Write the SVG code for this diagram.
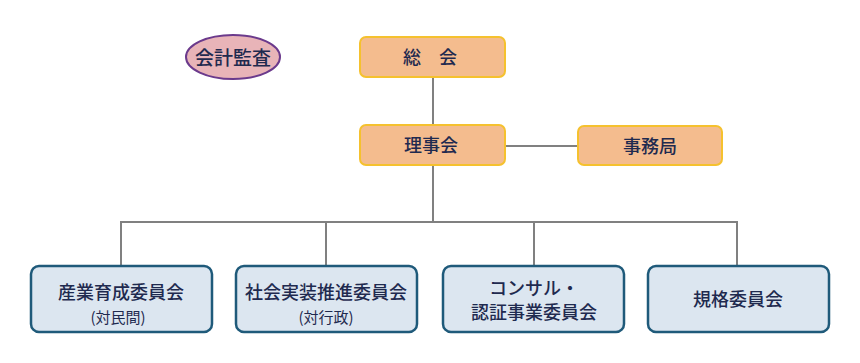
<svg xmlns="http://www.w3.org/2000/svg" width="860" height="363" viewBox="0 0 860 363">
<style>
.t{font-family:"Noto Sans CJK JP","Noto Sans",sans-serif;fill:#1F2A4F;text-anchor:middle;dominant-baseline:central;}
.m{font-size:18px;font-weight:500;}
.s{font-size:15px;}
.top{fill:#F4BC8E;stroke:#F5C12E;stroke-width:2;}
.bot{fill:#DCE6F0;stroke:#1F5A7A;stroke-width:2.5;}
.c{stroke:#808080;stroke-width:2;fill:none;}
</style>
<rect width="860" height="363" fill="#FFFFFF"/>
<g id="connectors">
<line class="c" x1="433" y1="77" x2="433" y2="125"/>
<line class="c" x1="505" y1="146" x2="578" y2="146"/>
<line class="c" x1="433" y1="165" x2="433" y2="222"/>
<polyline class="c" points="121,266 121,222 737,222 737,266"/>
<line class="c" x1="326" y1="222" x2="326" y2="266"/>
<line class="c" x1="534" y1="222" x2="534" y2="266"/>
</g>
<g id="audit">
<ellipse cx="233" cy="57" rx="47" ry="22" fill="#E8B4B8" stroke="#6B3A8C" stroke-width="2"/>
<text class="t m" x="233" y="56" style="font-size:19px">会計監査</text>
</g>
<g id="soukai">
<rect class="top" x="360" y="37" width="145" height="40" rx="6"/>
<text class="t m" x="430" y="56">総　会</text>
</g>
<g id="rijikai">
<rect class="top" x="360" y="125" width="145" height="40" rx="6"/>
<text class="t m" x="431" y="144">理事会</text>
</g>
<g id="jimukyoku">
<rect class="top" x="578" y="126" width="144" height="39" rx="6"/>
<text class="t m" x="650" y="145">事務局</text>
</g>
<g id="sangyo">
<rect class="bot" x="31" y="266" width="181" height="66" rx="8"/>
<text class="t m" x="121" y="291">産業育成委員会</text>
<text class="t s" x="118" y="316">(対民間)</text>
</g>
<g id="shakai">
<rect class="bot" x="236" y="266" width="181" height="66" rx="8"/>
<text class="t m" x="326" y="291">社会実装推進委員会</text>
<text class="t s" x="326" y="316">(対行政)</text>
</g>
<g id="consul">
<rect class="bot" x="443" y="266" width="181" height="66" rx="8"/>
<text class="t m" x="534" y="287">コンサル・</text>
<text class="t m" x="534" y="311">認証事業委員会</text>
</g>
<g id="kikaku">
<rect class="bot" x="648" y="266" width="181" height="66" rx="8"/>
<text class="t m" x="738" y="298">規格委員会</text>
</g>
</svg>
